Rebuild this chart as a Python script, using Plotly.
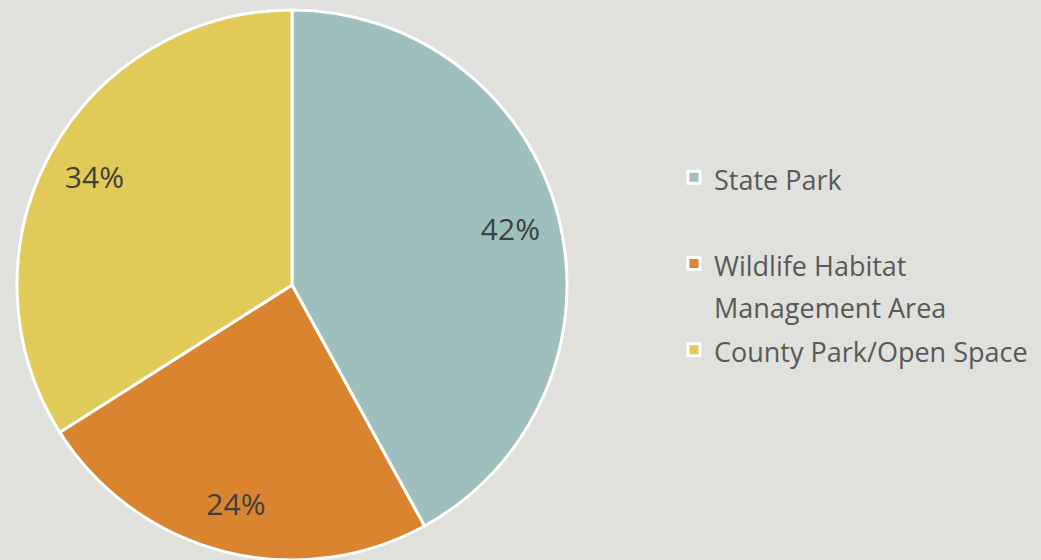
import plotly.graph_objects as go

categories = ["State Park", "Wildlife Habitat<br>Management Area", "County Park/Open Space"]
values = [42, 24, 34]
colors = ["#9fbfbe", "#da8430", "#e2ca58"]

# legend text drawn at 27px inside a 32px legend line grid (wider spacing, as in the original)
labels = ['<span style="font-size:27px">%s</span>' % c for c in categories]
labels[0] += "<br> "

W, H = 1041, 560
TOP = 10
dom = dict(x=[17 / W, 567 / W], y=[0, 1])

pie = go.Pie(
    labels=labels,
    values=values,
    sort=False,
    direction="clockwise",
    rotation=0,
    marker=dict(colors=colors, line=dict(color="white", width=3)),
    textinfo="none",
    domain=dom,
    hoverinfo="label+percent",
)
ring = go.Pie(
    labels=labels,
    values=values,
    sort=False,
    direction="clockwise",
    rotation=0,
    hole=0.64,
    marker=dict(colors=["rgba(0,0,0,0)"] * 3, line=dict(width=0)),
    textinfo="percent",
    textposition="inside",
    insidetextorientation="horizontal",
    textfont=dict(family="Open Sans", size=30, color="#404040"),
    domain=dom,
    showlegend=False,
    hoverinfo="skip",
)
fig = go.Figure([pie, ring])
fig.update_layout(
    width=W, height=H,
    margin=dict(l=0, r=0, t=TOP, b=0),
    paper_bgcolor="#e0e0dc",
    plot_bgcolor="#e0e0dc",
    showlegend=True,
    legend=dict(
        x=674 / W, y=1 - (150 - TOP) / (H - TOP), xanchor="left", yanchor="top",
        valign="top",
        font=dict(family="Open Sans", size=32, color="#595959"),
        bgcolor="rgba(0,0,0,0)",
    ),
)
fig.write_html("out.html", config={"displayModeBar": False},
               post_script="document.body.style.margin='0';document.body.style.overflow='hidden';")
